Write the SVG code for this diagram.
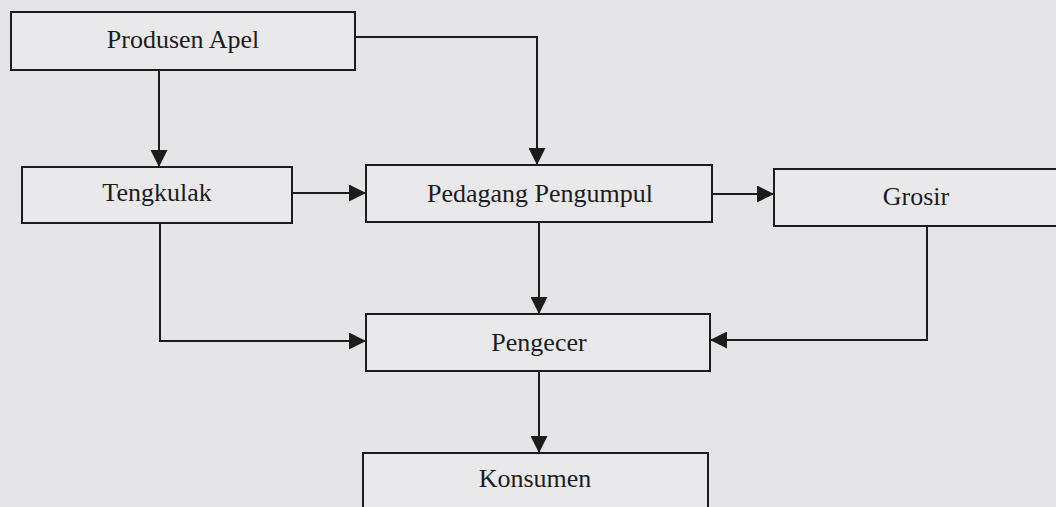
<svg xmlns="http://www.w3.org/2000/svg" width="1056" height="507" viewBox="0 0 1056 507">
<style>
.box{fill:#e9e9eb;stroke:#1c1c1c;stroke-width:2}
.lbl{font-family:"Liberation Serif","Times New Roman",serif;font-size:26px;fill:#1c1c1c;text-anchor:middle}
.con{fill:none;stroke:#1c1c1c;stroke-width:2;marker-end:url(#ah)}
</style>
<defs>
<marker id="ah" viewBox="0 0 18 18" refX="18" refY="9" markerWidth="18" markerHeight="17" markerUnits="userSpaceOnUse" orient="auto">
<path d="M0,0 L18,9 L0,18 z" fill="#1c1c1c"/>
</marker>
</defs>
<rect width="1056" height="507" fill="#e5e5e7"/>
<g id="connectors">
<path class="con" d="M159,70 V167"/>
<path class="con" d="M355,37 H537 V165"/>
<path class="con" d="M292,193 H366"/>
<path class="con" d="M712,194 H774"/>
<path class="con" d="M539,222 V314"/>
<path class="con" d="M160,223 V341 H366"/>
<path class="con" d="M927,226 V340 H710"/>
<path class="con" d="M539,371 V453"/>
</g>
<g id="produsen"><rect class="box" x="11" y="12" width="344" height="58"/><text class="lbl" x="183" y="48">Produsen Apel</text></g>
<g id="tengkulak"><rect class="box" x="22" y="167" width="270" height="56"/><text class="lbl" x="157" y="201">Tengkulak</text></g>
<g id="pedagang"><rect class="box" x="366" y="165" width="346" height="57"/><text class="lbl" x="540" y="202">Pedagang Pengumpul</text></g>
<g id="grosir"><rect class="box" x="774" y="169" width="290" height="57"/><text class="lbl" x="916" y="205">Grosir</text></g>
<g id="pengecer"><rect class="box" x="366" y="314" width="344" height="57"/><text class="lbl" x="539" y="351">Pengecer</text></g>
<g id="konsumen"><rect class="box" x="363" y="453" width="345" height="60"/><text class="lbl" x="535" y="487">Konsumen</text></g>
</svg>
